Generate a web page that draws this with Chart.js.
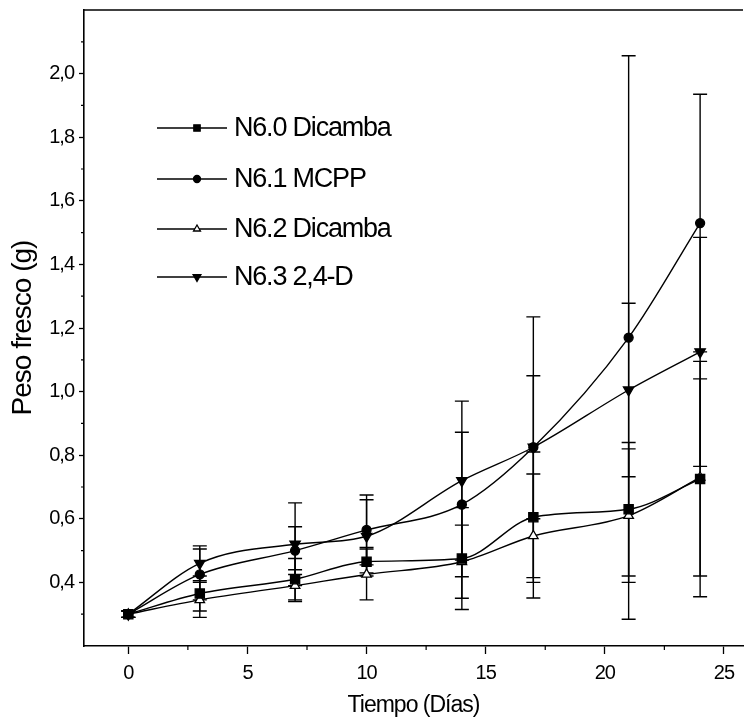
<!DOCTYPE html>
<html>
<head>
<meta charset="utf-8">
<script src="https://cdn.jsdelivr.net/npm/chart.js@4/dist/chart.umd.min.js"></script>
<style>
  html, body { margin: 0; padding: 0; background: #fff; }
  #wrap { width: 744px; height: 723px; }
</style>
</head>
<body>
<div id="wrap"><canvas id="c" width="744" height="723"></canvas></div>
<script>
// ---- data ----
const days = [0, 3, 7, 10, 14, 17, 21, 24];

const seriesNames = ["N6.0 Dicamba", "N6.1 MCPP", "N6.2 Dicamba", "N6.3 2,4-D"];

const n60 = [0.30, 0.365, 0.41, 0.465, 0.475, 0.605, 0.63, 0.725];
const n61 = [0.30, 0.425, 0.50, 0.565, 0.645, 0.825, 1.17, 1.53];
const n62 = [0.30, 0.345, 0.39, 0.425, 0.465, 0.546, 0.61, 0.73];
const n63 = [0.30, 0.46, 0.52, 0.545, 0.72, 0.825, 1.005, 1.125];

const n60err = [0.01, 0.055, 0.065, 0.045, 0.16, 0.205, 0.21, 0.37];
const n61err = [0.01, 0.08, 0.075, 0.11, 0.227, 0.41, 0.886, 0.405];
const n62err = [0.01, 0.055, 0.05, 0.08, 0.115, 0.195, 0.21, 0.31];
const n63err = [0.01, 0.055, 0.13, 0.115, 0.25, 0.225, 0.273, 0.36];

const xTickValues = [0, 2.5, 5, 7.5, 10, 12.5, 15, 17.5, 20, 22.5, 25];
const xTickLabels = ["0", "", "5", "", "10", "", "15", "", "20", "", "25"];
const yTickValues = [0.3, 0.4, 0.5, 0.6, 0.7, 0.8, 0.9, 1.0, 1.1, 1.2, 1.3, 1.4, 1.5, 1.6, 1.7, 1.8, 1.9, 2.0, 2.1];
const yTickLabels = ["", "0,4", "", "0,6", "", "0,8", "", "1,0", "", "1,2", "", "1,4", "", "1,6", "", "1,8", "", "2,0", ""];

const xTitle = "Tiempo (Días)";
const yTitle = "Peso fresco (g)";

// ---- build ----
const FONT = '"Liberation Sans Narrow", "Arial Narrow", "Liberation Sans", Arial, sans-serif';
const values = [n60, n61, n62, n63];
const errors = [n60err, n61err, n62err, n63err];
const styles = [
  { pointStyle: 'rect', radius: 6.5, rotation: 0, fill: '#000', legendRadius: 4.5 },
  { pointStyle: 'circle', radius: 4.5, rotation: 0, fill: '#000', legendRadius: 3.5 },
  { pointStyle: 'triangle', radius: 5.5, rotation: 0, fill: '#fff', legendRadius: 4 },
  { pointStyle: 'triangle', radius: 6, rotation: 180, fill: '#000', legendRadius: 4.5 }
];

const datasets = values.map((vals, i) => ({
  label: seriesNames[i],
  data: vals.map((v, j) => ({ x: days[j], y: v })),
  borderColor: '#000',
  borderWidth: 1.4,
  cubicInterpolationMode: 'monotone',
  fill: false,
  clip: false,
  pointStyle: styles[i].pointStyle,
  pointRadius: styles[i].radius,
  pointRotation: styles[i].rotation,
  pointBackgroundColor: styles[i].fill,
  pointBorderColor: '#000',
  pointBorderWidth: 1.3
}));

const decor = {
  id: 'decor',
  beforeDraw(chart) {
    chart.ctx.letterSpacing = '-1px';
  },
  beforeDatasetsDraw(chart) {
    const ctx = chart.ctx;
    const xs = chart.scales.x, ys = chart.scales.y;
    ctx.save();
    ctx.strokeStyle = '#000';
    ctx.lineWidth = 1.4;
    values.forEach((vals, i) => {
      vals.forEach((v, j) => {
        const e = errors[i][j];
        const x = xs.getPixelForValue(days[j]);
        const yt = ys.getPixelForValue(v + e);
        const yb = ys.getPixelForValue(v - e);
        ctx.beginPath();
        ctx.moveTo(x, yt); ctx.lineTo(x, yb);
        ctx.moveTo(x - 7, yt); ctx.lineTo(x + 7, yt);
        ctx.moveTo(x - 7, yb); ctx.lineTo(x + 7, yb);
        ctx.stroke();
      });
    });
    ctx.restore();
  },
  afterDraw(chart) {
    const ctx = chart.ctx;
    const a = chart.chartArea;
    const xs = chart.scales.x, ys = chart.scales.y;
    ctx.save();
    ctx.strokeStyle = '#000';
    // top border of the frame
    ctx.lineWidth = 1.5;
    ctx.beginPath();
    ctx.moveTo(a.left, a.top); ctx.lineTo(a.right, a.top);
    ctx.stroke();
    // minor ticks
    ctx.lineWidth = 1.2;
    ctx.beginPath();
    xTickValues.forEach((v, k) => {
      if (xTickLabels[k] === "") {
        const x = xs.getPixelForValue(v);
        ctx.moveTo(x, a.bottom); ctx.lineTo(x, a.bottom + 4);
      }
    });
    yTickValues.forEach((v, k) => {
      if (yTickLabels[k] === "") {
        const y = ys.getPixelForValue(v);
        ctx.moveTo(a.left, y); ctx.lineTo(a.left - 3, y);
      }
    });
    ctx.stroke();
    // legend
    const lx0 = 157, lx1 = 227, mx = 197, tx = 234;
    const rows = [128, 179, 229, 277];
    ctx.letterSpacing = '-1.2px';
    ctx.font = '27px ' + FONT;
    ctx.textBaseline = 'middle';
    ctx.textAlign = 'left';
    seriesNames.forEach((name, i) => {
      const y = rows[i];
      ctx.lineWidth = 1.3;
      ctx.strokeStyle = '#000';
      ctx.beginPath();
      ctx.moveTo(lx0, y); ctx.lineTo(lx1, y);
      ctx.stroke();
      ctx.fillStyle = styles[i].fill;
      Chart.helpers.drawPoint(ctx, {
        pointStyle: styles[i].pointStyle,
        radius: styles[i].legendRadius,
        rotation: styles[i].rotation,
        borderWidth: 1.2
      }, mx, y);
      ctx.fillStyle = '#000';
      ctx.fillText(name, tx, y + 1);
    });
    ctx.restore();
  }
};

new Chart(document.getElementById('c'), {
  type: 'line',
  data: { datasets },
  options: {
    responsive: false,
    animation: false,
    devicePixelRatio: 1,
    layout: { autoPadding: false, padding: { top: 10, right: 1, left: 0, bottom: 0 } },
    plugins: { legend: { display: false }, tooltip: { enabled: false } },
    scales: {
      x: {
        type: 'linear',
        min: -1.86,
        max: 25.8,
        afterBuildTicks: (s) => { s.ticks = xTickValues.map(v => ({ value: v })); },
        afterFit: (s) => { s.height = 77; s.paddingLeft = 0; s.paddingRight = 0; },
        ticks: {
          autoSkip: false,
          maxRotation: 0,
          padding: 7,
          color: '#000',
          font: { family: FONT, size: 20 },
          callback: (v, idx) => xTickLabels[idx]
        },
        grid: {
          drawOnChartArea: false,
          drawTicks: true,
          tickLength: 8,
          tickWidth: 1.3,
          tickColor: (c) => (xTickLabels[c.index] === "" ? 'rgba(0,0,0,0)' : '#000')
        },
        border: { display: true, color: '#000', width: 1.6 },
        title: {
          display: true,
          text: xTitle,
          color: '#000',
          font: { family: FONT, size: 23 },
          padding: { top: 0, bottom: 4 }
        }
      },
      y: {
        type: 'linear',
        min: 0.2,
        max: 2.2,
        afterBuildTicks: (s) => { s.ticks = yTickValues.map(v => ({ value: v })); },
        afterFit: (s) => { s.width = 84; s.paddingTop = 0; s.paddingBottom = 0; },
        ticks: {
          autoSkip: false,
          padding: 5,
          color: '#000',
          font: { family: FONT, size: 20 },
          callback: (v, idx) => yTickLabels[idx]
        },
        grid: {
          drawOnChartArea: false,
          drawTicks: true,
          tickLength: 5,
          tickWidth: 1.3,
          tickColor: (c) => (yTickLabels[c.index] === "" ? 'rgba(0,0,0,0)' : '#000')
        },
        border: { display: true, color: '#000', width: 1.6 },
        title: {
          display: true,
          text: yTitle,
          color: '#000',
          font: { family: FONT, size: 28 },
          padding: { top: 6, bottom: 0 }
        }
      }
    }
  },
  plugins: [decor]
});
</script>
</body>
</html>
